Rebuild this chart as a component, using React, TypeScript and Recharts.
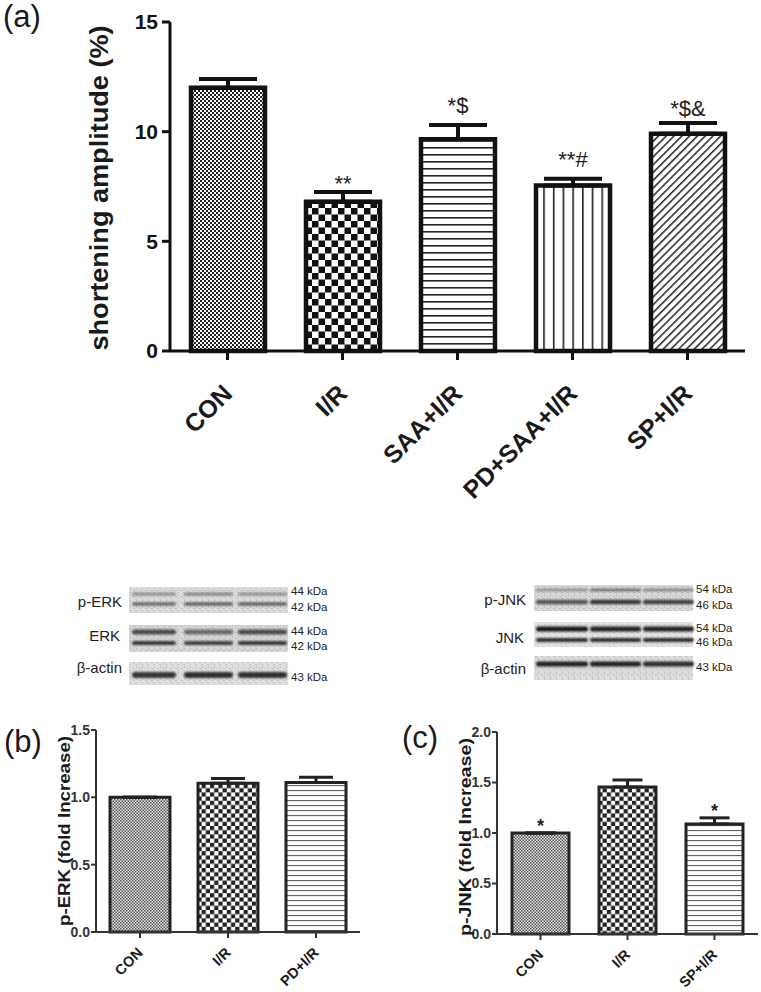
import React from 'react';
import { BarChart, Bar, XAxis, YAxis, ErrorBar, LabelList, Cell } from 'recharts';

// ---------- Data ----------
const catsA = ['CON', 'I/R', 'SAA+I/R', 'PD+SAA+I/R', 'SP+I/R'];
const valsA = [12.0, 6.8, 9.65, 7.55, 9.9];
const errsA = [0.4, 0.45, 0.65, 0.3, 0.5];
const sigA = ['', '**', '*$', '**#', '*$&'];
const ticksA = [0, 5, 10, 15];

const catsB = ['CON', 'I/R', 'PD+I/R'];
const valsB = [1.0, 1.105, 1.11];
const errsB = [0, 0.035, 0.04];
const sigB = ['', '', ''];
const ticksB = [0, 0.5, 1.0, 1.5];

const catsC = ['CON', 'I/R', 'SP+I/R'];
const valsC = [1.0, 1.455, 1.09];
const errsC = [0, 0.07, 0.06];
const sigC = ['*', '', '*'];
const ticksC = [0, 0.5, 1.0, 1.5, 2.0];

const build = (cats: string[], vals: number[], errs: number[], sig: string[]) =>
  cats.map((c, i) => ({ name: c, value: vals[i], err: errs[i], sig: sig[i] }));

const dataA = build(catsA, valsA, errsA, sigA);
const dataB = build(catsB, valsB, errsB, sigB);
const dataC = build(catsC, valsC, errsC, sigC);

const fillsA = ['url(#pFine)', 'url(#pCheckBig)', 'url(#pHoriz)', 'url(#pVert)', 'url(#pDiag)'];
const fillsB = ['url(#pFineS)', 'url(#pCheckS)', 'url(#pHorizS)'];
const fillsC = ['url(#pFineS)', 'url(#pCheckS)', 'url(#pHorizS)'];

const FONT = '"Liberation Sans", Arial, Helvetica, sans-serif';

const sigContent = (vals: number[], errs: number[], fontSize: number, textGap: number, weight: string) =>
  (p: any) => {
    const vb = p.viewBox || {};
    const x = p.x ?? vb.x;
    const y = p.y ?? vb.y;
    const w = p.width ?? vb.width;
    const h = p.height ?? vb.height;
    const v = p.value;
    const i = p.index;
    if (!v || i === undefined) return null;
    const per = h / vals[i];
    const top = y - errs[i] * per;
    const s = String(v);
    const gap = /[^*]/.test(s) ? (s.length > 2 && s.includes('&') ? textGap * 0.5 : textGap) : 0;
    return (
      <text x={x + w / 2} y={top - gap - 1} textAnchor="middle" fontSize={fontSize}
        fontFamily={FONT} fontWeight={weight} fill="#222">{v}</text>
    );
  };

const RotTick = (props: any) => {
  const { x, y, payload, fontSize, off } = props;
  return (
    <g transform={`translate(${x},${y + off}) rotate(-45)`}>
      <text x={0} y={0} dy="0.35em" textAnchor="end" fontSize={fontSize} fontWeight="bold"
        fontFamily={FONT} fill="#1a1a1a">{payload.value}</text>
    </g>
  );
};

// ---------- Western blot drawing (image-like) ----------
type Band = { y: number; th: number; lanes: number[] };
const Blot = ({ x, y, w, h, bg, bands, lanes }: { x: number; y: number; w: number; h: number; bg: string; bands: Band[]; lanes: [number, number][] }) => (
  <g>
    <rect x={x} y={y} width={w} height={h} fill={bg} />
    <rect x={x} y={y} width={w} height={h} fill="url(#noise)" opacity={0.25} />
    <g filter="url(#blur)">
      {bands.map((b, bi) =>
        lanes.map((ln, li) => (
          <rect key={`${bi}-${li}`} x={ln[0]} y={b.y - b.th / 2} width={ln[1] - ln[0]} height={b.th}
            rx={b.th / 2} fill="#000" fillOpacity={b.lanes[li]} />
        ))
      )}
    </g>
  </g>
);

const lanesERK: [number, number][] = [[132, 176], [184, 233], [238, 287]];
const lanesJNK: [number, number][] = [[536, 588], [590, 641], [643, 694]];

const Blots = () => (
  <svg width={761} height={120} viewBox="0 570 761 120" style={{ position: 'absolute', left: 0, top: 570 }}>
    <Blot x={129} y={587} w={159} h={26} bg="#cfcfcf" lanes={lanesERK}
      bands={[{ y: 594, th: 3, lanes: [0.35, 0.4, 0.35] }, { y: 604, th: 3.5, lanes: [0.5, 0.55, 0.55] }]} />
    <Blot x={129} y={625} w={159} h={27} bg="#c9c9c9" lanes={lanesERK}
      bands={[{ y: 632, th: 5, lanes: [0.65, 0.5, 0.65] }, { y: 643, th: 4, lanes: [0.75, 0.7, 0.75] }]} />
    <Blot x={129} y={662} w={159} h={23} bg="#d3d3d3" lanes={lanesERK}
      bands={[{ y: 675, th: 6, lanes: [0.75, 0.78, 0.78] }]} />

    <Blot x={534} y={585} w={159} h={26} bg="#cbcbcb" lanes={lanesJNK}
      bands={[{ y: 590, th: 3, lanes: [0.3, 0.45, 0.35] }, { y: 602, th: 4.5, lanes: [0.6, 0.75, 0.7] }]} />
    <Blot x={534} y={622} w={159} h={25} bg="#dadada" lanes={lanesJNK}
      bands={[{ y: 629, th: 5, lanes: [0.9, 0.85, 0.85] }, { y: 640, th: 4, lanes: [0.8, 0.8, 0.8] }]} />
    <Blot x={534} y={656} w={159} h={24} bg="#d0d0d0" lanes={lanesJNK}
      bands={[{ y: 664, th: 5, lanes: [0.85, 0.85, 0.8] }]} />

    <g fontFamily={FONT} fill="#222">
      <text x={122} y={607} fontSize={15} textAnchor="end">p-ERK</text>
      <text x={120} y={641} fontSize={15} textAnchor="end">ERK</text>
      <text x={122} y={673} fontSize={15} textAnchor="end">β-actin</text>
      <text x={291} y={595} fontSize={11.5}>44 kDa</text>
      <text x={291} y={611} fontSize={11.5}>42 kDa</text>
      <text x={291} y={635} fontSize={11.5}>44 kDa</text>
      <text x={291} y={650} fontSize={11.5}>42 kDa</text>
      <text x={291} y={681} fontSize={11.5}>43 kDa</text>

      <text x={526} y={605} fontSize={15} textAnchor="end">p-JNK</text>
      <text x={524} y={643} fontSize={15} textAnchor="end">JNK</text>
      <text x={526} y={674} fontSize={15} textAnchor="end">β-actin</text>
      <text x={696} y={593} fontSize={11.5}>54 kDa</text>
      <text x={696} y={609} fontSize={11.5}>46 kDa</text>
      <text x={696} y={632} fontSize={11.5}>54 kDa</text>
      <text x={696} y={646} fontSize={11.5}>46 kDa</text>
      <text x={696} y={671} fontSize={11.5}>43 kDa</text>
    </g>
  </svg>
);

const Defs = () => (
  <svg width={0} height={0} style={{ position: 'absolute' }}>
    <defs>
      <filter id="blur" x="-10%" y="-50%" width="120%" height="200%">
        <feGaussianBlur stdDeviation="1.1" />
      </filter>
      <pattern id="noise" width={6} height={6} patternUnits="userSpaceOnUse">
        <rect width={6} height={6} fill="#fff" />
        <rect x={1} y={2} width={2} height={1} fill="#888" />
        <rect x={4} y={0} width={1} height={2} fill="#999" />
        <rect x={3} y={4} width={2} height={1} fill="#aaa" />
      </pattern>
      <pattern id="pFine" width={4} height={4} patternUnits="userSpaceOnUse">
        <rect width={4} height={4} fill="#fff" />
        <rect x={0} y={0} width={2} height={2} fill="#222" />
        <rect x={2} y={2} width={2} height={2} fill="#222" />
      </pattern>
      <pattern id="pCheckBig" width={13} height={13} patternUnits="userSpaceOnUse">
        <rect width={13} height={13} fill="#fff" />
        <rect x={0} y={0} width={6.5} height={6.5} fill="#111" />
        <rect x={6.5} y={6.5} width={6.5} height={6.5} fill="#111" />
      </pattern>
      <pattern id="pHoriz" width={8} height={7} patternUnits="userSpaceOnUse">
        <rect width={8} height={7} fill="#fff" />
        <rect x={0} y={0} width={8} height={1.6} fill="#222" />
      </pattern>
      <pattern id="pVert" width={9.7} height={8} patternUnits="userSpaceOnUse">
        <rect width={9.7} height={8} fill="#fff" />
        <rect x={0} y={0} width={1.6} height={8} fill="#222" />
      </pattern>
      <pattern id="pDiag" width={5.5} height={5.5} patternUnits="userSpaceOnUse" patternTransform="rotate(45)">
        <rect width={5.5} height={5.5} fill="#fff" />
        <rect x={0} y={0} width={1.5} height={5.5} fill="#222" />
      </pattern>
      <pattern id="pFineS" width={3} height={3} patternUnits="userSpaceOnUse">
        <rect width={3} height={3} fill="#e6e6e6" />
        <rect x={0} y={0} width={1.5} height={1.5} fill="#555" />
        <rect x={1.5} y={1.5} width={1.5} height={1.5} fill="#555" />
      </pattern>
      <pattern id="pCheckS" width={8.4} height={8.4} patternUnits="userSpaceOnUse">
        <rect width={8.4} height={8.4} fill="#fff" />
        <rect x={0} y={0} width={4.2} height={4.2} fill="#222" />
        <rect x={4.2} y={4.2} width={4.2} height={4.2} fill="#222" />
      </pattern>
      <pattern id="pHorizS" width={8} height={5} patternUnits="userSpaceOnUse">
        <rect width={8} height={5} fill="#fff" />
        <rect x={0} y={0} width={8} height={1.1} fill="#666" />
      </pattern>
    </defs>
  </svg>
);

export default function App() {
  return (
    <div style={{ position: 'absolute', left: 0, top: 0, width: 761, height: 992, background: '#fff', fontFamily: FONT, overflow: 'hidden' }}>
      <Defs />

      {/* Panel (a) */}
      <div style={{ position: 'absolute', left: 0, top: 0 }}>
        <BarChart width={761} height={530} data={dataA} margin={{ top: 22, right: 16, left: 0, bottom: 0 }}>
          <XAxis dataKey="name" height={179} interval={0}
            axisLine={{ stroke: '#111', strokeWidth: 3 }} tickLine={{ stroke: '#111', strokeWidth: 3 }}
            tickSize={9} tickMargin={2}
            tick={<RotTick fontSize={25} off={27} />} />
          <YAxis width={170} domain={[0, 15]} ticks={ticksA} interval={0}
            axisLine={{ stroke: '#111', strokeWidth: 3 }} tickLine={{ stroke: '#111', strokeWidth: 3 }}
            tickSize={8} tickMargin={4}
            tick={{ fill: '#111', fontSize: 21, fontWeight: 'bold', fontFamily: FONT }} />
          <Bar dataKey="value" barSize={74} stroke="#111" strokeWidth={4.5} isAnimationActive={false}>
            {dataA.map((d, i) => <Cell key={d.name} fill={fillsA[i]} />)}
            <ErrorBar dataKey={(d: any) => [0, d.err]} width={29} stroke="#111" strokeWidth={4} direction="y" />
            <LabelList dataKey="sig" content={sigContent(valsA, errsA, 22, 11, 'normal')} />
          </Bar>
        </BarChart>
      </div>

      {/* Blots */}
      <Blots />

      {/* Panel (b) */}
      <div style={{ position: 'absolute', left: 0, top: 700 }}>
        <BarChart width={380} height={292} data={dataB} margin={{ top: 30, right: 20, left: 0, bottom: 0 }}>
          <XAxis dataKey="name" height={60} interval={0}
            axisLine={{ stroke: '#333', strokeWidth: 2 }} tickLine={{ stroke: '#333', strokeWidth: 2 }}
            tickSize={6} tickMargin={2}
            tick={<RotTick fontSize={14.5} off={10} />} />
          <YAxis width={96} domain={[0, 1.5]} ticks={ticksB} interval={0}
            tickFormatter={(v: number) => v.toFixed(1)}
            axisLine={{ stroke: '#333', strokeWidth: 2 }} tickLine={{ stroke: '#333', strokeWidth: 2 }}
            tickSize={5} tickMargin={1}
            tick={{ fill: '#333', fontSize: 14, fontWeight: 'bold', fontFamily: FONT }} />
          <Bar dataKey="value" barSize={60} stroke="#222" strokeWidth={3} isAnimationActive={false}>
            {dataB.map((d, i) => <Cell key={d.name} fill={fillsB[i]} />)}
            <ErrorBar dataKey={(d: any) => [0, d.err]} width={17} stroke="#222" strokeWidth={3} direction="y" />
          </Bar>
        </BarChart>
      </div>

      {/* Panel (c) */}
      <div style={{ position: 'absolute', left: 380, top: 700 }}>
        <BarChart width={381} height={292} data={dataC} margin={{ top: 32, right: 3, left: 0, bottom: 0 }}>
          <XAxis dataKey="name" height={58} interval={0}
            axisLine={{ stroke: '#333', strokeWidth: 2 }} tickLine={{ stroke: '#333', strokeWidth: 2 }}
            tickSize={6} tickMargin={2}
            tick={<RotTick fontSize={14.5} off={10} />} />
          <YAxis width={117} domain={[0, 2]} ticks={ticksC} interval={0}
            tickFormatter={(v: number) => v.toFixed(1)}
            axisLine={{ stroke: '#333', strokeWidth: 2 }} tickLine={{ stroke: '#333', strokeWidth: 2 }}
            tickSize={5} tickMargin={1}
            tick={{ fill: '#333', fontSize: 14, fontWeight: 'bold', fontFamily: FONT }} />
          <Bar dataKey="value" barSize={57} stroke="#222" strokeWidth={3} isAnimationActive={false}>
            {dataC.map((d, i) => <Cell key={d.name} fill={fillsC[i]} />)}
            <ErrorBar dataKey={(d: any) => [0, d.err]} width={15} stroke="#222" strokeWidth={3} direction="y" />
            <LabelList dataKey="sig" content={sigContent(valsC, errsC, 18, 4, 'bold')} />
          </Bar>
        </BarChart>
      </div>

      {/* Free text: panel letters and axis titles */}
      <svg width={761} height={992} style={{ position: 'absolute', left: 0, top: 0, pointerEvents: 'none' }}>
        <g fontFamily={FONT} fill="#1a1a1a">
          <text x={3} y={27} fontSize={31}>(a)</text>
          <text x={4} y={752} fontSize={31}>(b)</text>
          <text x={402} y={748} fontSize={31}>(c)</text>
          <text transform="translate(108,188) rotate(-90)" textAnchor="middle" fontSize={26} fontWeight="bold"
            textLength={325} lengthAdjust="spacingAndGlyphs">shortening amplitude (%)</text>
          <text transform="translate(70,831) rotate(-90)" textAnchor="middle" fontSize={17} fontWeight="bold"
            textLength={190} lengthAdjust="spacingAndGlyphs">p-ERK (fold Increase)</text>
          <text transform="translate(471,837) rotate(-90)" textAnchor="middle" fontSize={17} fontWeight="bold"
            textLength={198} lengthAdjust="spacingAndGlyphs">p-JNK (fold Increase)</text>
        </g>
      </svg>
    </div>
  );
}
